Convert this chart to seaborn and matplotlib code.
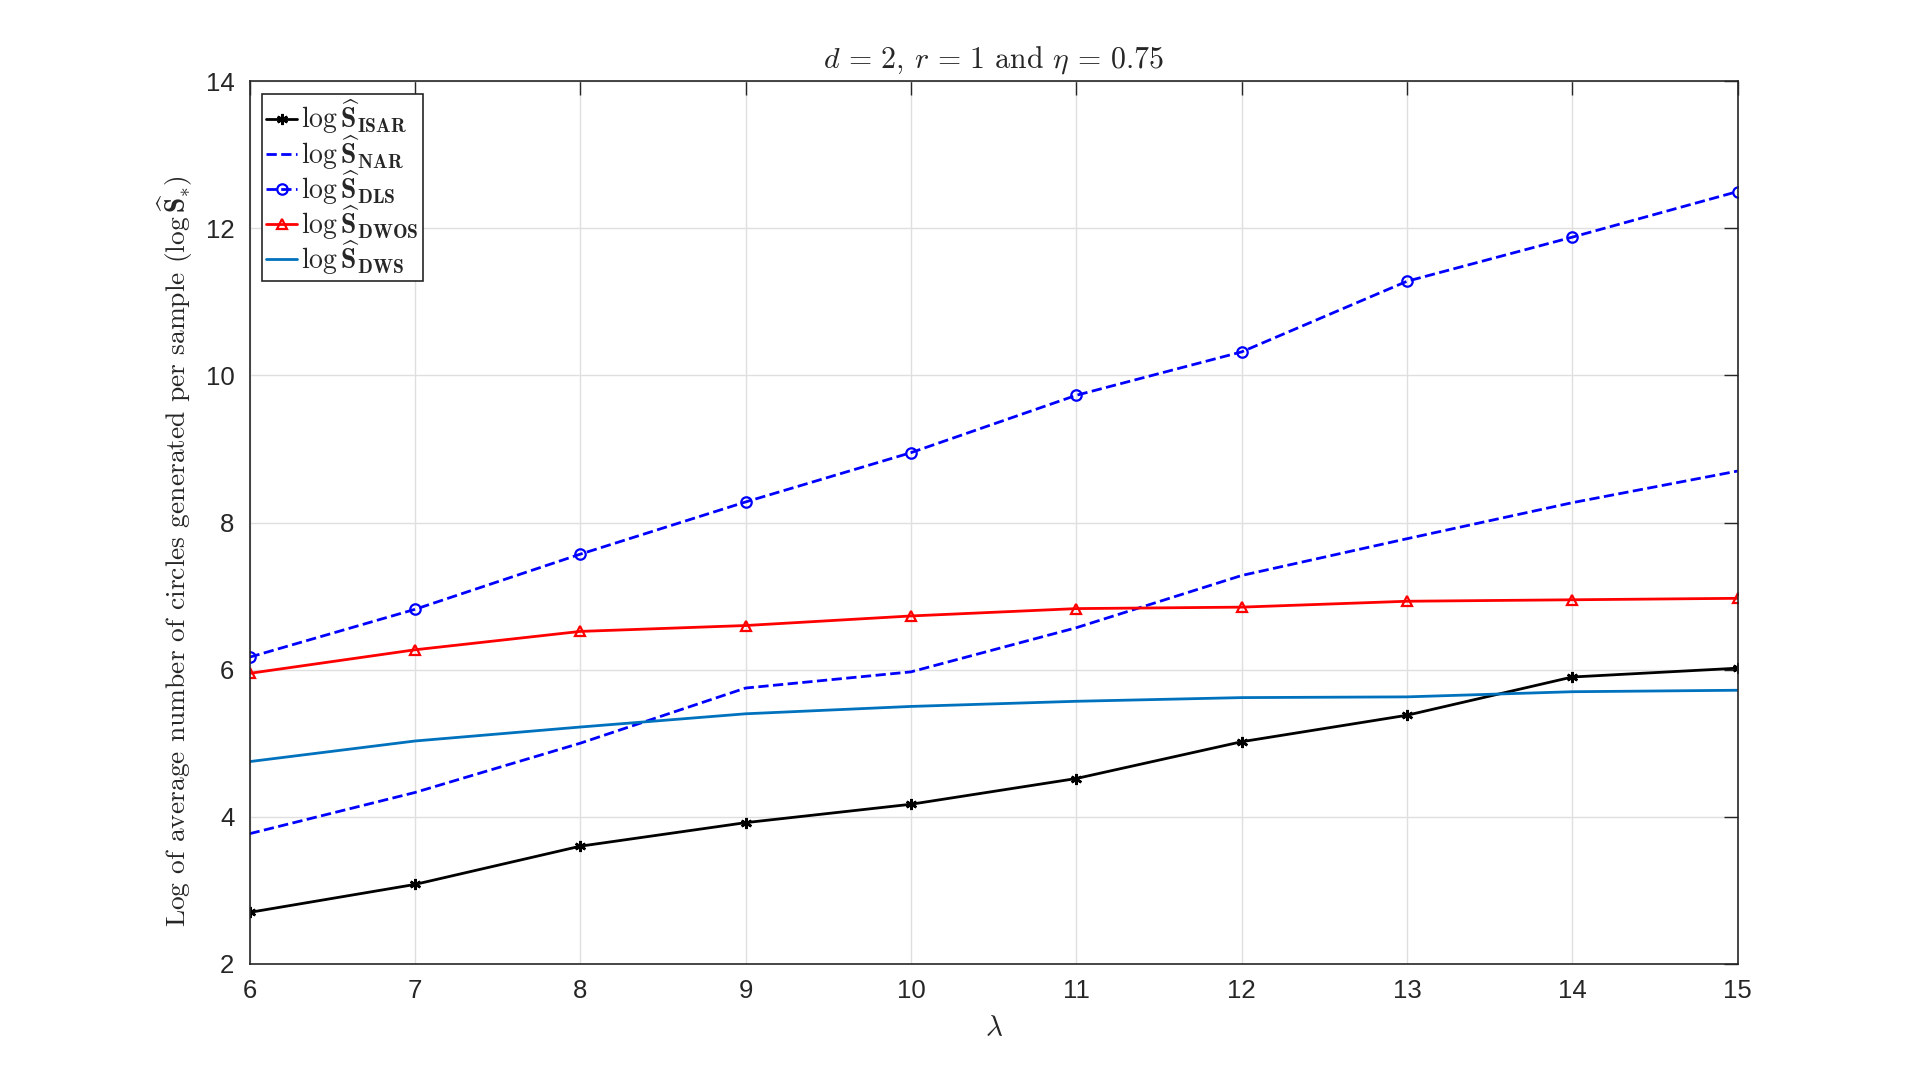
import matplotlib
matplotlib.use("Agg")
import matplotlib.pyplot as plt
import pandas as pd
import seaborn as sns

# data
lam = [6, 7, 8, 9, 10, 11, 12, 13, 14, 15]
s_isar = [2.70, 3.08, 3.60, 3.92, 4.17, 4.52, 5.02, 5.38, 5.90, 6.02]
s_nar = [3.77, 4.33, 5.00, 5.75, 5.97, 6.57, 7.28, 7.78, 8.27, 8.70]
s_dls = [6.17, 6.82, 7.57, 8.28, 8.95, 9.73, 10.32, 11.28, 11.88, 12.50]
s_dwos = [5.95, 6.27, 6.52, 6.60, 6.73, 6.83, 6.85, 6.93, 6.95, 6.97]
s_dws = [4.75, 5.03, 5.22, 5.40, 5.50, 5.57, 5.62, 5.63, 5.70, 5.72]

labels = [
    r"$\log\widehat{\mathbf{S}}_{\mathbf{ISAR}}$",
    r"$\log\widehat{\mathbf{S}}_{\mathbf{NAR}}$",
    r"$\log\widehat{\mathbf{S}}_{\mathbf{DLS}}$",
    r"$\log\widehat{\mathbf{S}}_{\mathbf{DWOS}}$",
    r"$\log\widehat{\mathbf{S}}_{\mathbf{DWS}}$",
]

sns.set_style("white")
plt.rcParams["font.family"] = ["Liberation Sans", "DejaVu Sans"]
plt.rcParams["mathtext.fontset"] = "cm"

fig = plt.figure(figsize=(19.2, 10.83), dpi=100)
ax = fig.add_axes([0.13, 0.11, 0.775, 0.815])

# style per series
styles = [
    dict(color="black", linestyle="-", marker=(6, 2, 0), markersize=8,
         markeredgewidth=1.8, markeredgecolor="black"),
    dict(color="blue", linestyle="--"),
    dict(color="blue", linestyle="--", marker="o", markersize=7.5,
         markerfacecolor="none", markeredgewidth=1.6, markeredgecolor="blue"),
    dict(color="red", linestyle="-", marker="^", markersize=7.5,
         markerfacecolor="none", markeredgewidth=1.6, markeredgecolor="red"),
    dict(color="#0072BD", linestyle="-"),
]
series = [s_isar, s_nar, s_dls, s_dwos, s_dws]

for ys, lab, st in zip(series, labels, styles):
    df = pd.DataFrame({"lam": lam, "val": ys})
    sns.lineplot(data=df, x="lam", y="val", ax=ax, label=lab,
                 linewidth=2, **st)

ax.set_xlim(6, 15)
ax.set_ylim(2, 14)
ax.set_xticks(lam)
ax.set_yticks([2, 4, 6, 8, 10, 12, 14])
ax.grid(True, color="#dfdfdf", linewidth=1)
ax.set_axisbelow(True)
for sp in ax.spines.values():
    sp.set_color("#262626")
    sp.set_linewidth(1.2)
ax.tick_params(direction="in", length=10, width=1, colors="#262626",
               labelsize=18.5, top=True, right=True, pad=11)

ax.set_xlabel(r"$\lambda$", fontsize=21, labelpad=8)
ax.set_ylabel("Log of average number of circles generated per sample "
              r"$(\log\widehat{\mathbf{S}}_{*})$",
              fontsize=19.8, family="cmr10")
ax.yaxis.set_label_coords(-0.037, 0.468)
ax.set_title(r"$d\,=\,2$, $r\,=\,1$ and $\eta\,=\,0.75$",
             fontsize=21.5, family="cmr10", pad=10)

leg = ax.legend(loc="upper left", fontsize=20, frameon=True, fancybox=False,
                handlelength=1.1, handletextpad=0.15, labelspacing=-0.12,
                borderpad=0.15, borderaxespad=0.45)
leg.get_frame().set_edgecolor("#262626")
leg.get_frame().set_linewidth(1.2)
leg.get_frame().set_alpha(1)

fig.savefig("out.png", dpi=100)
